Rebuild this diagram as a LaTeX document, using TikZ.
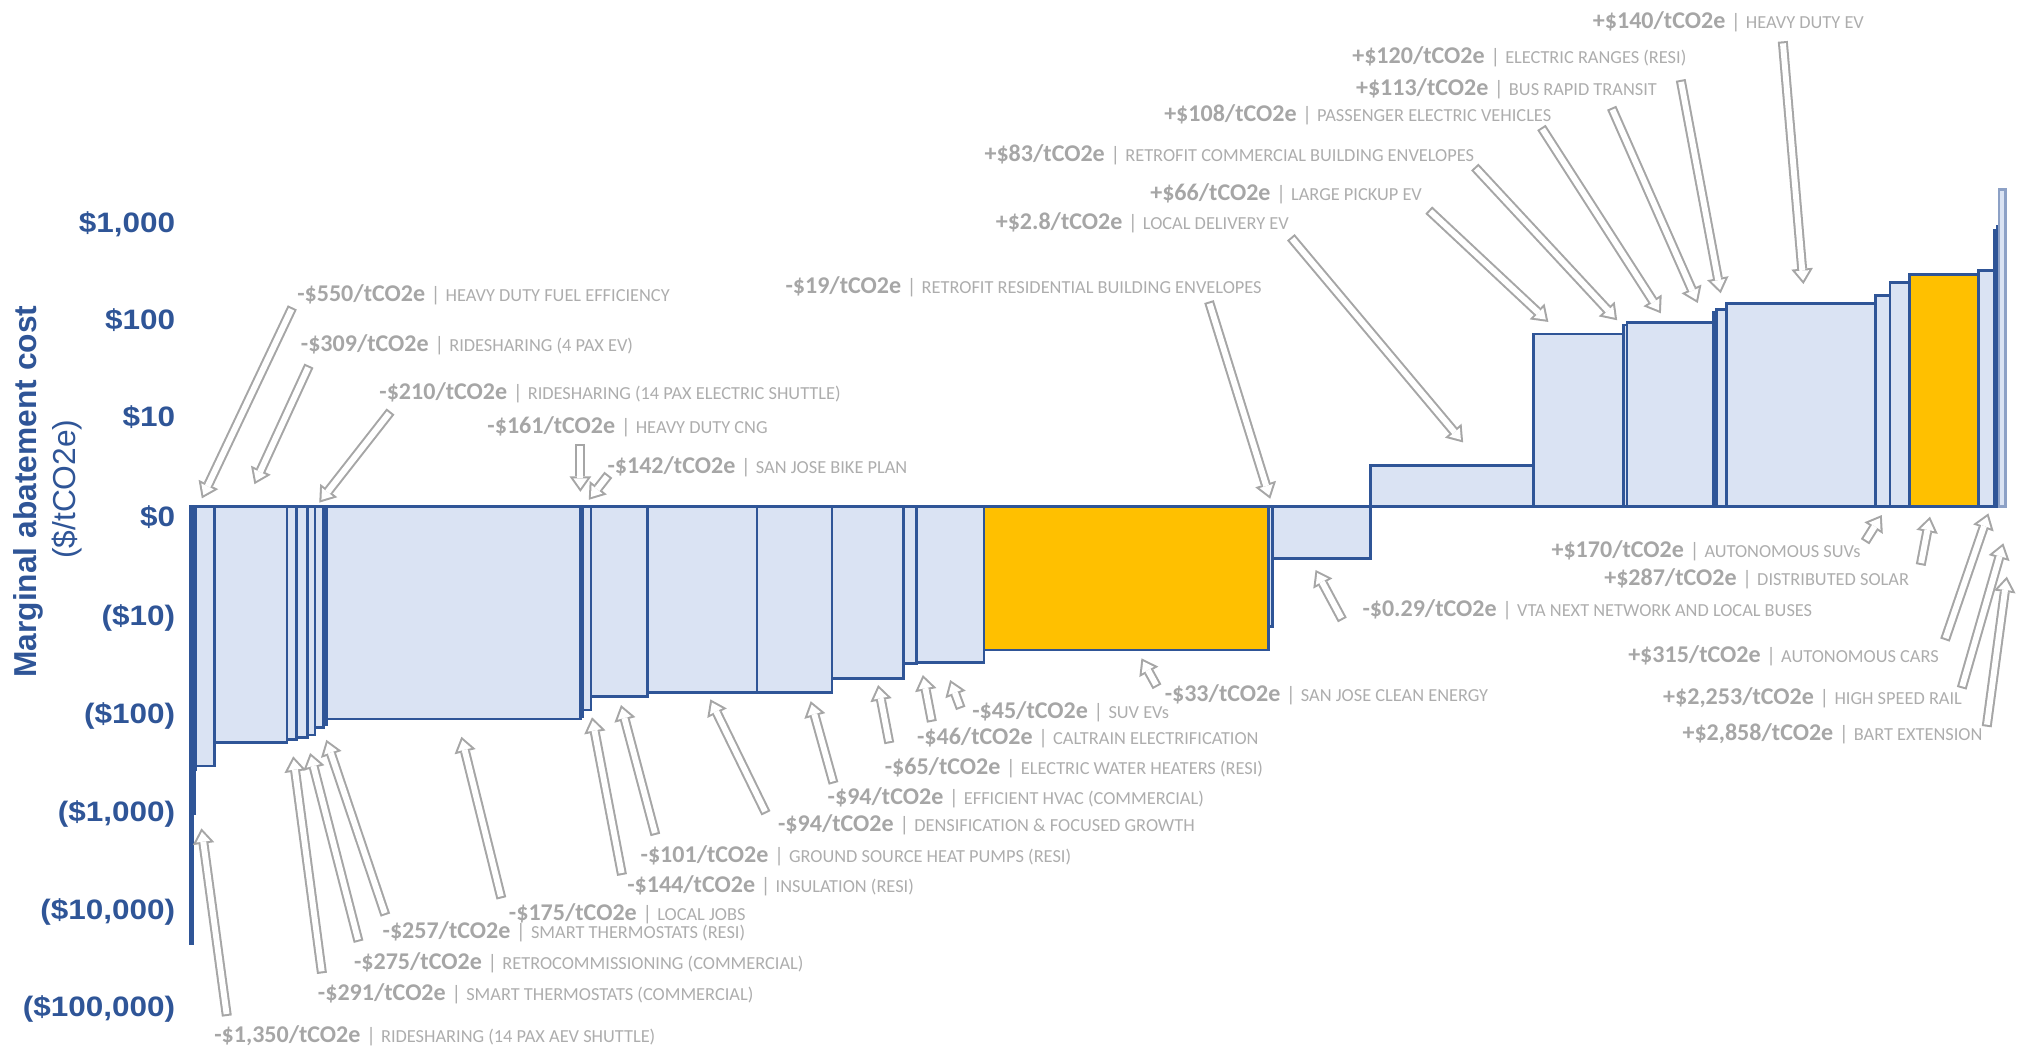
\documentclass[tikz,border=0pt]{standalone}
\usepackage{fontspec}
\setmainfont{Carlito}
\newfontfamily\axisfont[FakeStretch=1.12]{Liberation Sans}
\newfontfamily\titlefont{Liberation Sans}
\definecolor{macblue}{HTML}{2F5597}
\definecolor{macfill}{HTML}{DAE3F3}
\definecolor{macgold}{HTML}{FFC000}
\definecolor{macgray}{HTML}{A6A6A6}
\definecolor{macname}{HTML}{ADADAD}
\usetikzlibrary{arrows.meta}
% value | measure label
\newcommand{\mac}[2]{{\fontsize{5.3pt}{6pt}\selectfont\bfseries\color{macgray}#1}%
  \hspace{0.45mm}{\fontsize{4.6pt}{5pt}\selectfont\color{macname}|}%
  \hspace{0.4mm}{\fontsize{4.05pt}{5pt}\selectfont\color{macname}#2}}

\begin{document}
\begin{tikzpicture}[
  x=0.01cm, y=-0.01cm,
  bar/.style={draw=macblue, fill=macfill, line width=0.6pt},
  hl/.style={bar, fill=macgold},
  arr/.style={draw=macgray, line width=2.2pt,
    -{Triangle[length=3.4pt,width=4.8pt,line width=0pt]},
    postaction={draw=white, line width=1.3pt, shorten >=0.78pt, shorten <=0.45pt,
      -{Triangle[length=2.17pt,width=3.06pt,line width=0pt]}}},
  lbl/.style={anchor=base west, inner sep=0pt},
  tick/.style={anchor=base east, inner sep=0pt, text=macblue,
    font=\axisfont\bfseries\fontsize{6.2pt}{7pt}\selectfont}
]
  \useasboundingbox (0,0) rectangle (1568,813);

  % Axis
  \foreach \t/\yy in {{\$1,000}/172.5, {\$100}/247.5, {\$10}/323.3, {\$0}/400.9,
      {(\$10)}/477.7, {(\$100)}/553.5, {(\$1,000)}/629.5, {(\$10,000)}/705.5,
      {(\$100,000)}/781}
    \node[tick] at (136.6,\yy+7.8) {\t};
  \node[rotate=90, text=macblue, font=\titlefont\bfseries\fontsize{7pt}{8pt}\selectfont]
    (ytitle) at (22,381.5) {Marginal abatement cost};
  \node[rotate=90, text=macblue, font=\titlefont\fontsize{7pt}{8pt}\selectfont]
    (yunit) at (52,379.5) {(\$/tCO2e)};

  % Bars below zero
  \foreach \x/\X/\y in {148/149.5/732, 149.5/151/631, 151/152.1/597,
      152.1/166.5/594.3, 166.5/222.7/576, 222.7/230/574, 230/238.3/572.3,
      238.3/244.5/570.3, 244.5/250.8/564.3, 250.8/253.2/562, 253.2/450.6/557.8,
      450.6/452.3/556, 452.3/458.5/550.8, 458.5/502.6/540.5, 502.6/587.4/537.4,
      587.4/645.6/537.4, 645.6/701.1/526.3, 701.1/710.8/514.7, 710.8/763.4/514.1,
      984.4/987.1/486.2, 987.1/1063.3/433.2}
    \draw[bar] (\x,393) rectangle (\X,\y);
  \draw[hl] (763.4,393) rectangle (984.4,504.3);

  % Bars above zero
  \foreach \x/\X/\y in {1063.3/1189.5/361.2, 1189.5/1259.4/259.2,
      1259.4/1262.3/252.2, 1262.3/1329.3/250.1, 1329.3/1331.8/242.6,
      1331.8/1339.3/239.9, 1339.3/1454.9/235.6, 1454.9/1466.3/229.2,
      1466.3/1481.3/219.1, 1534.8/1547.3/209.7, 1547.3/1549.4/178.5,
      1549.4/1550.9/175.8}
    \draw[bar] (\x,393) rectangle (\X,\y);
  \draw[hl] (1481.3,393) rectangle (1534.8,213.2);
  \draw[bar, draw=macblue!55] (1550.9,393) rectangle (1556.2,147);

  % Labels above the curve
  \node[lbl] (v550) at (230,234) {\mac{-\$550/tCO2e}{HEAVY DUTY FUEL EFFICIENCY}};
  \node[lbl] (v309) at (232.8,272.6) {\mac{-\$309/tCO2e}{RIDESHARING (4 PAX EV)}};
  \node[lbl] (v210) at (293.7,309.7) {\mac{-\$210/tCO2e}{RIDESHARING (14 PAX ELECTRIC SHUTTLE)}};
  \node[lbl] (v161) at (377.5,336) {\mac{-\$161/tCO2e}{HEAVY DUTY CNG}};
  \node[lbl] (v142) at (470.7,367.4) {\mac{-\$142/tCO2e}{SAN JOSE BIKE PLAN}};
  \node[lbl] (v19) at (608.8,227.8) {\mac{-\$19/tCO2e}{RETROFIT RESIDENTIAL BUILDING ENVELOPES}};
  \node[lbl] (v28) at (771.9,177.9) {\mac{+\$2.8/tCO2e}{LOCAL DELIVERY EV}};
  \node[lbl] (v66) at (891.8,155.9) {\mac{+\$66/tCO2e}{LARGE PICKUP EV}};
  \node[lbl] (v83) at (763.2,125.4) {\mac{+\$83/tCO2e}{RETROFIT COMMERCIAL BUILDING ENVELOPES}};
  \node[lbl] (v108) at (902.6,94.3) {\mac{+\$108/tCO2e}{PASSENGER ELECTRIC VEHICLES}};
  \node[lbl] (v113) at (1051.4,74) {\mac{+\$113/tCO2e}{BUS RAPID TRANSIT}};
  \node[lbl] (v120) at (1048.5,49.2) {\mac{+\$120/tCO2e}{ELECTRIC RANGES (RESI)}};
  \node[lbl] (v140) at (1235.2,21.9) {\mac{+\$140/tCO2e}{HEAVY DUTY EV}};

  % Labels below the curve
  \node[lbl] (v170) at (1203.1,432.6) {\mac{+\$170/tCO2e}{AUTONOMOUS SUVs}};
  \node[lbl] (v287) at (1244,453.9) {\mac{+\$287/tCO2e}{DISTRIBUTED SOLAR}};
  \node[lbl] (v029) at (1056.4,478.4) {\mac{-\$0.29/tCO2e}{VTA NEXT NETWORK AND LOCAL BUSES}};
  \node[lbl] (v315) at (1262.6,514.1) {\mac{+\$315/tCO2e}{AUTONOMOUS CARS}};
  \node[lbl] (v2253) at (1289.7,546.9) {\mac{+\$2,253/tCO2e}{HIGH SPEED RAIL}};
  \node[lbl] (v2858) at (1304.7,574.9) {\mac{+\$2,858/tCO2e}{BART EXTENSION}};
  \node[lbl] (v33) at (903,543.9) {\mac{-\$33/tCO2e}{SAN JOSE CLEAN ENERGY}};
  \node[lbl] (v45) at (753.7,557.4) {\mac{-\$45/tCO2e}{SUV EVs}};
  \node[lbl] (v46) at (710.8,577.9) {\mac{-\$46/tCO2e}{CALTRAIN ELECTRIFICATION}};
  \node[lbl] (v65) at (685.8,601.2) {\mac{-\$65/tCO2e}{ELECTRIC WATER HEATERS (RESI)}};
  \node[lbl] (v94a) at (641.5,623.9) {\mac{-\$94/tCO2e}{EFFICIENT HVAC (COMMERCIAL)}};
  \node[lbl] (v94b) at (603,645.2) {\mac{-\$94/tCO2e}{DENSIFICATION \& FOCUSED GROWTH}};
  \node[lbl] (v101) at (496.4,669.3) {\mac{-\$101/tCO2e}{GROUND SOURCE HEAT PUMPS (RESI)}};
  \node[lbl] (v144) at (486,692.5) {\mac{-\$144/tCO2e}{INSULATION (RESI)}};
  \node[lbl] (v175) at (394.2,714.5) {\mac{-\$175/tCO2e}{LOCAL JOBS}};
  \node[lbl] (v257) at (296.2,728.2) {\mac{-\$257/tCO2e}{SMART THERMOSTATS (RESI)}};
  \node[lbl] (v275) at (274,752.5) {\mac{-\$275/tCO2e}{RETROCOMMISSIONING (COMMERCIAL)}};
  \node[lbl] (v291) at (246,776.6) {\mac{-\$291/tCO2e}{SMART THERMOSTATS (COMMERCIAL)}};
  \node[lbl] (v1350) at (165.6,808.9) {\mac{-\$1,350/tCO2e}{RIDESHARING (14 PAX AEV SHUTTLE)}};

  % Arrows: tail -> head
  \foreach \n/\ax/\ay/\bx/\by in {
      550/226.8/238.5/156.6/386.7, 309/239.7/283.7/197.4/375.7,
      210/303/319.3/247.7/390, 161/450.3/344.3/450.3/381.6,
      142/472/368.4/456.8/387.8, 19/938/234/985.5/387,
      28/1001.5/184.1/1135.2/343.3, 66/1108.5/163/1201.3/249.8,
      83/1144.2/129.6/1254.7/248.5, 108/1195.9/98.9/1288.6/243.1,
      113/1250.4/83.6/1317.2/235.1, 120/1304/62/1335/227.6,
      140/1383.2/32.1/1399.2/220.4, 170/1447/420.3/1460/399.6,
      287/1490.2/438.4/1497.4/400.9, 315/1509/496.6/1542.7/398.3,
      2253/1522/534/1554.3/421.5, 2858/1541.4/563.8/1557/447.4,
      029/1041.5/481/1020.7/442.2, 33/897.7/532.8/885.6/510.8,
      45/745.4/549.6/737.2/527.6, 46/723/560/716/523.7,
      65/690/576.7/681.3/531.5, 94a/646.7/607.8/629/544,
      94b/594.3/631/551.1/542.6, 101/508.5/647.8/481.8/547,
      144/482.6/678.9/459.3/556.5, 175/389/697/358/571.6,
      257/299/710/253.2/574, 275/278.2/730.6/240.6/584.2,
      291/249.8/755.2/227.5/586.8, 1350/176/788.3/156.3/642.7}{
    \coordinate (t\n) at (\ax,\ay);
    \coordinate (h\n) at (\bx,\by);
    \draw[arr] (t\n) -- (h\n);
  }
\end{tikzpicture}
\end{document}
